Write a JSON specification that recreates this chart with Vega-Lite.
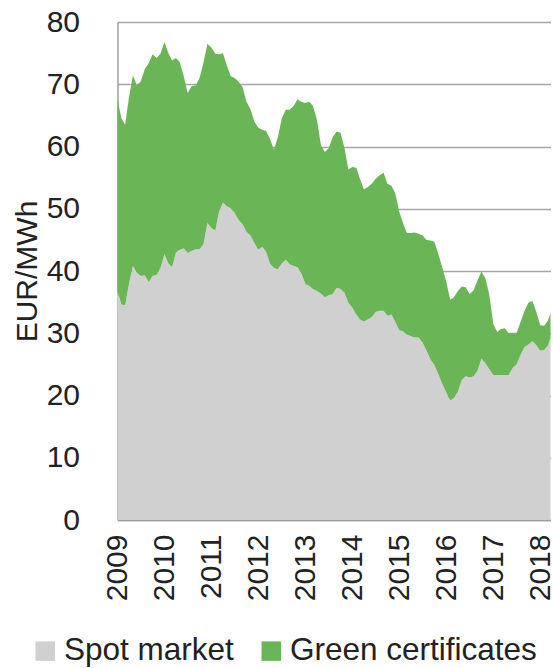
{
  "$schema": "https://vega.github.io/schema/vega-lite/v6.json",
  "width": 433,
  "height": 498,
  "autosize": {"type": "none"},
  "padding": {"left": 117.5, "top": 22, "right": 2.5, "bottom": 148},
  "background": "white",
  "config": {
    "font": "Liberation Sans",
    "view": {"stroke": null}
  },
  "data": {
    "values": [
      {"date": "2009-01-01T00:00:00", "spot": 36.7, "green": 30.8},
      {"date": "2009-02-01T00:00:00", "spot": 34.6, "green": 29.9},
      {"date": "2009-03-01T00:00:00", "spot": 34.5, "green": 29.0},
      {"date": "2009-04-01T00:00:00", "spot": 38.0, "green": 30.0},
      {"date": "2009-05-01T00:00:00", "spot": 40.8, "green": 30.6},
      {"date": "2009-06-01T00:00:00", "spot": 39.7, "green": 30.1},
      {"date": "2009-07-01T00:00:00", "spot": 39.2, "green": 31.3},
      {"date": "2009-08-01T00:00:00", "spot": 39.3, "green": 33.1},
      {"date": "2009-09-01T00:00:00", "spot": 38.2, "green": 35.2},
      {"date": "2009-10-01T00:00:00", "spot": 39.2, "green": 35.6},
      {"date": "2009-11-01T00:00:00", "spot": 39.4, "green": 34.8},
      {"date": "2009-12-01T00:00:00", "spot": 40.5, "green": 34.4},
      {"date": "2010-01-01T00:00:00", "spot": 42.7, "green": 34.1},
      {"date": "2010-02-01T00:00:00", "spot": 41.2, "green": 33.8},
      {"date": "2010-03-01T00:00:00", "spot": 40.6, "green": 33.2},
      {"date": "2010-04-01T00:00:00", "spot": 43.0, "green": 31.2},
      {"date": "2010-05-01T00:00:00", "spot": 43.4, "green": 30.1},
      {"date": "2010-06-01T00:00:00", "spot": 43.6, "green": 27.6},
      {"date": "2010-07-01T00:00:00", "spot": 42.9, "green": 25.7},
      {"date": "2010-08-01T00:00:00", "spot": 43.2, "green": 26.5},
      {"date": "2010-09-01T00:00:00", "spot": 43.5, "green": 26.3},
      {"date": "2010-10-01T00:00:00", "spot": 43.5, "green": 27.5},
      {"date": "2010-11-01T00:00:00", "spot": 44.3, "green": 29.2},
      {"date": "2010-12-01T00:00:00", "spot": 47.7, "green": 28.8},
      {"date": "2011-01-01T00:00:00", "spot": 46.9, "green": 29.0},
      {"date": "2011-02-01T00:00:00", "spot": 46.5, "green": 28.4},
      {"date": "2011-03-01T00:00:00", "spot": 49.5, "green": 25.3},
      {"date": "2011-04-01T00:00:00", "spot": 51.0, "green": 24.0},
      {"date": "2011-05-01T00:00:00", "spot": 50.4, "green": 22.6},
      {"date": "2011-06-01T00:00:00", "spot": 50.1, "green": 21.2},
      {"date": "2011-07-01T00:00:00", "spot": 49.3, "green": 21.7},
      {"date": "2011-08-01T00:00:00", "spot": 48.2, "green": 22.2},
      {"date": "2011-09-01T00:00:00", "spot": 47.5, "green": 22.0},
      {"date": "2011-10-01T00:00:00", "spot": 46.3, "green": 20.9},
      {"date": "2011-11-01T00:00:00", "spot": 45.7, "green": 20.3},
      {"date": "2011-12-01T00:00:00", "spot": 44.5, "green": 19.5},
      {"date": "2012-01-01T00:00:00", "spot": 43.4, "green": 19.6},
      {"date": "2012-02-01T00:00:00", "spot": 43.9, "green": 18.8},
      {"date": "2012-03-01T00:00:00", "spot": 43.1, "green": 19.4},
      {"date": "2012-04-01T00:00:00", "spot": 41.2, "green": 20.0},
      {"date": "2012-05-01T00:00:00", "spot": 40.5, "green": 19.0},
      {"date": "2012-06-01T00:00:00", "spot": 40.3, "green": 21.2},
      {"date": "2012-07-01T00:00:00", "spot": 41.2, "green": 23.3},
      {"date": "2012-08-01T00:00:00", "spot": 41.8, "green": 24.1},
      {"date": "2012-09-01T00:00:00", "spot": 41.1, "green": 24.8},
      {"date": "2012-10-01T00:00:00", "spot": 40.8, "green": 25.7},
      {"date": "2012-11-01T00:00:00", "spot": 40.6, "green": 27.0},
      {"date": "2012-12-01T00:00:00", "spot": 39.6, "green": 27.6},
      {"date": "2013-01-01T00:00:00", "spot": 37.9, "green": 29.1},
      {"date": "2013-02-01T00:00:00", "spot": 37.6, "green": 29.6},
      {"date": "2013-03-01T00:00:00", "spot": 37.1, "green": 29.4},
      {"date": "2013-04-01T00:00:00", "spot": 36.8, "green": 27.5},
      {"date": "2013-05-01T00:00:00", "spot": 36.4, "green": 23.9},
      {"date": "2013-06-01T00:00:00", "spot": 35.8, "green": 23.3},
      {"date": "2013-07-01T00:00:00", "spot": 36.1, "green": 23.6},
      {"date": "2013-08-01T00:00:00", "spot": 36.3, "green": 25.2},
      {"date": "2013-09-01T00:00:00", "spot": 37.3, "green": 25.1},
      {"date": "2013-10-01T00:00:00", "spot": 37.1, "green": 25.1},
      {"date": "2013-11-01T00:00:00", "spot": 36.5, "green": 23.3},
      {"date": "2013-12-01T00:00:00", "spot": 34.9, "green": 21.4},
      {"date": "2014-01-01T00:00:00", "spot": 34.1, "green": 22.6},
      {"date": "2014-02-01T00:00:00", "spot": 33.0, "green": 23.6},
      {"date": "2014-03-01T00:00:00", "spot": 32.2, "green": 22.6},
      {"date": "2014-04-01T00:00:00", "spot": 31.9, "green": 21.2},
      {"date": "2014-05-01T00:00:00", "spot": 32.2, "green": 21.3},
      {"date": "2014-06-01T00:00:00", "spot": 32.6, "green": 21.4},
      {"date": "2014-07-01T00:00:00", "spot": 33.4, "green": 21.4},
      {"date": "2014-08-01T00:00:00", "spot": 33.6, "green": 21.8},
      {"date": "2014-09-01T00:00:00", "spot": 33.6, "green": 22.2},
      {"date": "2014-10-01T00:00:00", "spot": 32.8, "green": 21.2},
      {"date": "2014-11-01T00:00:00", "spot": 33.0, "green": 20.7},
      {"date": "2014-12-01T00:00:00", "spot": 31.8, "green": 20.7},
      {"date": "2015-01-01T00:00:00", "spot": 30.5, "green": 19.0},
      {"date": "2015-02-01T00:00:00", "spot": 30.3, "green": 17.3},
      {"date": "2015-03-01T00:00:00", "spot": 29.8, "green": 16.3},
      {"date": "2015-04-01T00:00:00", "spot": 29.5, "green": 16.6},
      {"date": "2015-05-01T00:00:00", "spot": 29.3, "green": 16.9},
      {"date": "2015-06-01T00:00:00", "spot": 29.3, "green": 16.7},
      {"date": "2015-07-01T00:00:00", "spot": 28.5, "green": 17.2},
      {"date": "2015-08-01T00:00:00", "spot": 27.2, "green": 17.8},
      {"date": "2015-09-01T00:00:00", "spot": 25.8, "green": 19.1},
      {"date": "2015-10-01T00:00:00", "spot": 24.9, "green": 19.8},
      {"date": "2015-11-01T00:00:00", "spot": 23.4, "green": 19.3},
      {"date": "2015-12-01T00:00:00", "spot": 21.9, "green": 18.7},
      {"date": "2016-01-01T00:00:00", "spot": 20.5, "green": 17.8},
      {"date": "2016-02-01T00:00:00", "spot": 19.2, "green": 16.2},
      {"date": "2016-03-01T00:00:00", "spot": 19.6, "green": 16.2},
      {"date": "2016-04-01T00:00:00", "spot": 20.6, "green": 16.2},
      {"date": "2016-05-01T00:00:00", "spot": 22.5, "green": 15.0},
      {"date": "2016-06-01T00:00:00", "spot": 23.1, "green": 14.3},
      {"date": "2016-07-01T00:00:00", "spot": 22.9, "green": 13.4},
      {"date": "2016-08-01T00:00:00", "spot": 23.1, "green": 13.8},
      {"date": "2016-09-01T00:00:00", "spot": 24.0, "green": 14.5},
      {"date": "2016-10-01T00:00:00", "spot": 25.9, "green": 14.0},
      {"date": "2016-11-01T00:00:00", "spot": 25.2, "green": 13.6},
      {"date": "2016-12-01T00:00:00", "spot": 24.2, "green": 12.0},
      {"date": "2017-01-01T00:00:00", "spot": 23.3, "green": 8.2},
      {"date": "2017-02-01T00:00:00", "spot": 23.3, "green": 6.9},
      {"date": "2017-03-01T00:00:00", "spot": 23.3, "green": 7.4},
      {"date": "2017-04-01T00:00:00", "spot": 23.3, "green": 7.5},
      {"date": "2017-05-01T00:00:00", "spot": 23.3, "green": 6.7},
      {"date": "2017-06-01T00:00:00", "spot": 24.4, "green": 5.6},
      {"date": "2017-07-01T00:00:00", "spot": 25.0, "green": 5.0},
      {"date": "2017-08-01T00:00:00", "spot": 26.5, "green": 5.3},
      {"date": "2017-09-01T00:00:00", "spot": 27.8, "green": 5.8},
      {"date": "2017-10-01T00:00:00", "spot": 28.2, "green": 6.7},
      {"date": "2017-11-01T00:00:00", "spot": 28.7, "green": 6.5},
      {"date": "2017-12-01T00:00:00", "spot": 28.1, "green": 5.4},
      {"date": "2018-01-01T00:00:00", "spot": 27.2, "green": 4.1},
      {"date": "2018-02-01T00:00:00", "spot": 27.3, "green": 3.9},
      {"date": "2018-03-01T00:00:00", "spot": 28.0, "green": 4.0},
      {"date": "2018-03-22T00:00:00", "spot": 29.2, "green": 4.0}
    ]
  },
  "transform": [
    {"fold": ["spot", "green"], "as": ["series", "value"]}
  ],
  "mark": {"type": "area", "interpolate": "linear"},
  "encoding": {
    "x": {
      "field": "date",
      "type": "temporal",
      "scale": {"nice": false},
      "axis": {
        "title": null,
        "format": "%Y",
        "tickCount": {"interval": "year", "step": 1},
        "labelAngle": -90,
        "labelAlign": "right",
        "labelBaseline": "middle",
        "labelFontSize": 30,
        "labelColor": "#222222",
        "labelPadding": 14,
        "ticks": false,
        "grid": false,
        "domain": true,
        "domainColor": "#9e9e9e",
        "domainWidth": 1.5,
        "labelOverlap": false,
        "labelFlush": false
      }
    },
    "y": {
      "field": "value",
      "type": "quantitative",
      "stack": "zero",
      "scale": {"domain": [0, 80], "nice": false},
      "axis": {
        "title": "EUR/MWh",
        "titleFontSize": 30,
        "titleFontWeight": "normal",
        "titleColor": "#222222",
        "titlePadding": 4,
        "values": [0, 10, 20, 30, 40, 50, 60, 70, 80],
        "labelFontSize": 30,
        "labelColor": "#222222",
        "labelPadding": 38,
        "ticks": false,
        "grid": true,
        "gridColor": "#a6a6a6",
        "gridWidth": 1.5,
        "domain": true,
        "domainColor": "#9e9e9e",
        "domainWidth": 1.5
      }
    },
    "color": {
      "field": "series",
      "type": "nominal",
      "scale": {"domain": ["spot", "green"], "range": ["#d0d0d0", "#6ab656"]},
      "legend": {
        "title": null,
        "orient": "none",
        "direction": "horizontal",
        "legendX": -88,
        "legendY": 613,
        "symbolType": "square",
        "symbolSize": 380,
        "symbolStrokeWidth": 0,
        "labelFontSize": 31.5,
        "labelColor": "#222222",
        "labelOffset": 3,
        "labelLimit": 0,
        "columnPadding": 21,
        "labelExpr": "datum.value == 'spot' ? 'Spot market' : 'Green certificates'"
      }
    },
    "order": {"field": "series", "sort": "descending"}
  }
}
